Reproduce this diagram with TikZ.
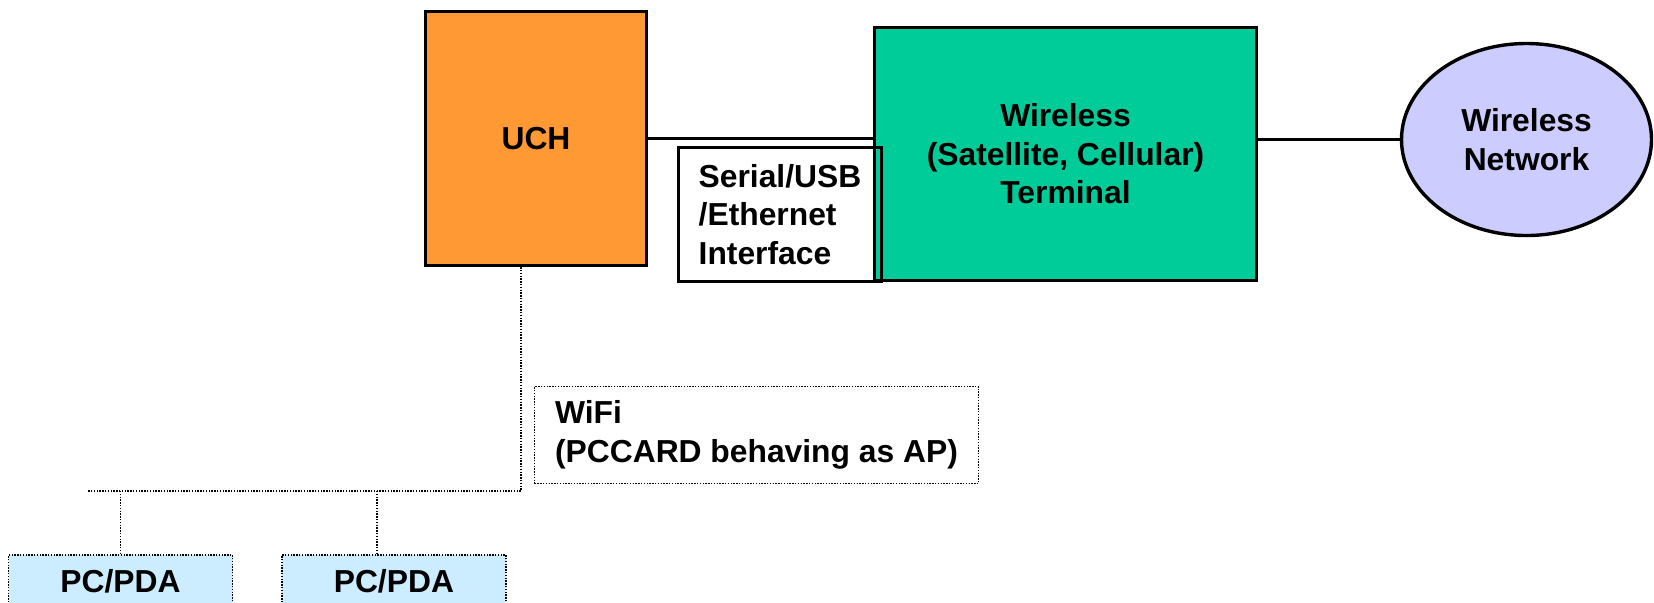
\documentclass[tikz,border=0pt]{standalone}
\usepackage{fontspec}
\setmainfont{Liberation Sans}
\usetikzlibrary{positioning,shapes}
\definecolor{uchorange}{HTML}{FF9933}
\definecolor{termgreen}{HTML}{00CC99}
\definecolor{netblue}{HTML}{CCCCFF}
\definecolor{pcblue}{HTML}{CCECFF}
\tikzstyle{box} = [
rectangle,
draw=black,
line width=1.7pt,
inner sep=0pt
]
\tikzstyle{netnode} = [
ellipse,
draw=black,
line width=1.7pt,
fill=netblue,
minimum width=125pt,
minimum height=96pt,
inner sep=0pt
]
\tikzstyle{dotbox} = [
rectangle,
draw=black,
line width=0.7pt,
dash pattern=on 0.7pt off 0.7pt,
inner sep=0pt
]
\tikzstyle{pcbox} = [
dotbox,
fill=pcblue,
minimum width=112pt,
minimum height=26pt
]
\tikzstyle{link} = [line width=1.7pt]
\tikzstyle{wlink} = [
line width=0.7pt,
dash pattern=on 0.7pt off 0.7pt
]

\begin{document}
\begin{tikzpicture}[
	x=0.5pt,
	y=-0.5pt,
	align=center,
	font=\bfseries\fontsize{15.9pt}{19.3pt}\selectfont
	]
	\useasboundingbox (0,0) rectangle (1654,602);
	\clip (0,0) rectangle (1654,602);
	
	\node[box,fill=uchorange,minimum width=110.5pt,minimum height=127pt] (uch) at (536,138.5) {UCH};
	\node[box,fill=termgreen,minimum width=191pt,minimum height=126.5pt] (term) at (1065.5,154) {Wireless\\(Satellite, Cellular)\\Terminal};
	\node[box,align=left,minimum width=101.5pt,minimum height=67pt] (intf) at (780,214.5) {Serial/USB\\/Ethernet\\Interface};
	\node[netnode] (net) at (1526.5,139.5) {Wireless\\Network};
	
	\node[dotbox,align=left,minimum width=222pt,minimum height=48.5pt] (wifi) at (756.5,435) {WiFi\\(PCCARD behaving as AP)};
	\node[pcbox] (pc1) at (120.5,581) {PC/PDA};
	\node[pcbox,right=24pt of pc1] (pc2) {PC/PDA};
	
	\coordinate (hub) at (521,491);
	\coordinate (hubend) at (88,491);
	\coordinate (tap2) at (377,491);
	
	\draw[link] (uch.east) -- (uch.east -| term.west);
	\draw[link] (term.east |- net) -- (net.west);
	\draw[wlink] (uch.south -| hub) -- (hub) -- (hubend);
	\draw[wlink] (pc1.north |- hub) -- (pc1.north);
	\draw[wlink] (tap2) -- (tap2 |- pc2.north);
\end{tikzpicture}
\end{document}
